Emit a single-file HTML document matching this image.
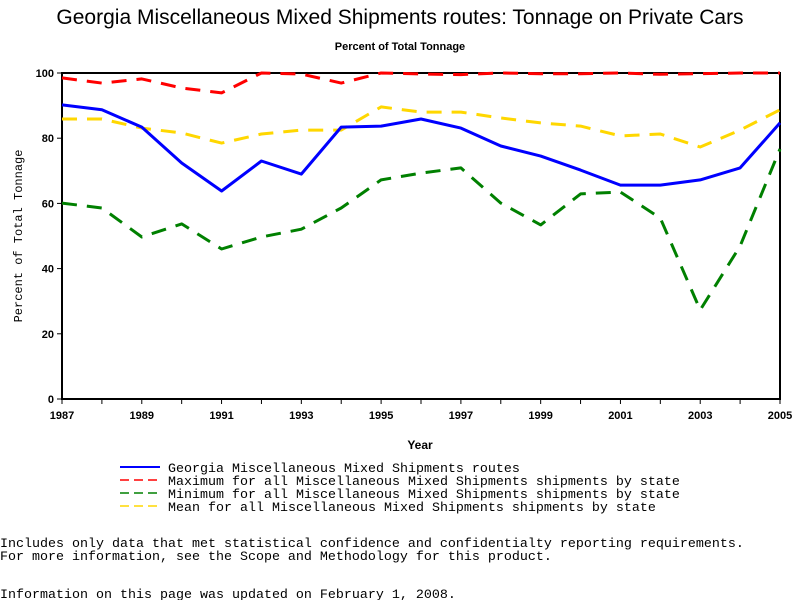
<!DOCTYPE html>
<html><head><meta charset="utf-8"><style>
body{margin:0;background:#fff;}
svg{display:block;}
.m{font-family:"Liberation Mono",monospace;font-size:13.33px;fill:#000;}
</style></head><body>
<svg id="c" width="800" height="600" xmlns="http://www.w3.org/2000/svg">
<text x="400" y="24" text-anchor="middle" font-family="Liberation Sans,sans-serif" font-size="21">Georgia Miscellaneous Mixed Shipments routes: Tonnage on Private Cars</text>
<text x="400" y="50" text-anchor="middle" font-family="Liberation Sans,sans-serif" font-size="11" font-weight="bold">Percent of Total Tonnage</text>
<g id="axes"></g>
<g id="series"></g>
<text x="420" y="449" text-anchor="middle" font-family="Liberation Sans,sans-serif" font-size="12" font-weight="bold">Year</text>
<text transform="translate(22,236) rotate(-90)" text-anchor="middle" class="m" font-size="12" style="font-size:12px">Percent of Total Tonnage</text>
<g>
<line x1="120" y1="467" x2="160" y2="467" stroke="#0000ff" stroke-width="2"/>
<text x="168" y="472" class="m">Georgia Miscellaneous Mixed Shipments routes</text>
<line x1="120" y1="480" x2="160" y2="480" stroke="#ff0000" stroke-width="1.5" stroke-dasharray="9,5"/>
<text x="168" y="485" class="m">Maximum for all Miscellaneous Mixed Shipments shipments by state</text>
<line x1="120" y1="493" x2="160" y2="493" stroke="#008000" stroke-width="1.5" stroke-dasharray="9,5"/>
<text x="168" y="498" class="m">Minimum for all Miscellaneous Mixed Shipments shipments by state</text>
<line x1="120" y1="506" x2="160" y2="506" stroke="#ffd700" stroke-width="1.5" stroke-dasharray="9,5"/>
<text x="168" y="511" class="m">Mean for all Miscellaneous Mixed Shipments shipments by state</text>
</g>
<text x="0" y="547" class="m">Includes only data that met statistical confidence and confidentialty reporting requirements.</text>
<text x="0" y="560" class="m">For more information, see the Scope and Methodology for this product.</text>
<text x="0" y="598" class="m">Information on this page was updated on February 1, 2008.</text>
</svg>
<script>
const years=[1987,1988,1989,1990,1991,1992,1993,1994,1995,1996,1997,1998,1999,2000,2001,2002,2003,2004,2005];
const georgia=[90.2,88.7,83.4,72.4,63.8,73,69,83.4,83.7,85.9,83.1,77.6,74.5,70.2,65.6,65.6,67.2,70.9,84.7];
const maxVals=[98.5,96.9,98.2,95.4,93.9,100,99.7,96.9,100,99.7,99.5,100,99.8,99.8,100,99.6,99.8,100,100];
const minVals=[60.1,58.6,49.7,53.7,46,49.7,52.1,58.6,67.2,69.3,70.9,60.1,53.4,62.9,63.5,55.5,27.3,46.9,76.7];
const meanVals=[85.9,85.9,83.1,81.6,78.5,81.3,82.5,82.5,89.6,88,88,86.2,84.7,83.7,80.7,81.3,77.3,82.5,88.7];
const yTicks=[0,20,40,60,80,100];
const xTicks=[1987,1989,1991,1993,1995,1997,1999,2001,2003,2005];
const NS="http://www.w3.org/2000/svg";
const X0=62,X1=780,Y0=399,Y1=73;
function xs(y){return X0+(y-1987)/(2005-1987)*(X1-X0);}
function ys(v){return Y0-v/100*(Y0-Y1);}
function mk(t,a,p){const e=document.createElementNS(NS,t);for(const k in a)e.setAttribute(k,a[k]);p.appendChild(e);return e;}
const ax=document.getElementById('axes');
const fr=mk('rect',{x:X0,y:Y1,width:X1-X0,height:Y0-Y1,fill:'none',stroke:'#000','stroke-width':2},ax);


yTicks.forEach(v=>{
  const l=mk('line',{x1:X0-5,x2:X0,y1:ys(v),y2:ys(v),stroke:'#000','stroke-width':1},ax);
  
  
  const t=mk('text',{x:X0-8,y:ys(v)+4,'text-anchor':'end','font-family':'Liberation Sans,sans-serif','font-size':11,'font-weight':'bold'},ax);
  t.textContent=v;
  
  
});
years.forEach(y=>{
  const l=mk('line',{x1:xs(y),x2:xs(y),y1:Y0,y2:Y0+5,stroke:'#000','stroke-width':1},ax);
  
  
});
xTicks.forEach(y=>{
  const t=mk('text',{x:xs(y),y:Y0+20,'text-anchor':'middle','font-family':'Liberation Sans,sans-serif','font-size':11,'font-weight':'bold'},ax);
  t.textContent=y;
  
  
});
const sg=document.getElementById('series');
function line(vals,color,dash,name){
  const d=vals.map((v,i)=>(i?'L':'M')+xs(years[i]).toFixed(1)+','+ys(v).toFixed(1)).join(' ');
  const a={d:d,fill:'none',stroke:color,'stroke-width':3,'stroke-linejoin':'round'};
  if(dash)a['stroke-dasharray']=dash;
  const p=mk('path',a,sg);
  
  
}
line(maxVals,'#ff0000','15,10','max-line');
line(minVals,'#008000','15,10','min-line');
line(meanVals,'#ffd700','15,10','mean-line');
line(georgia,'#0000ff',null,'georgia-line');
</script>
</body></html>
